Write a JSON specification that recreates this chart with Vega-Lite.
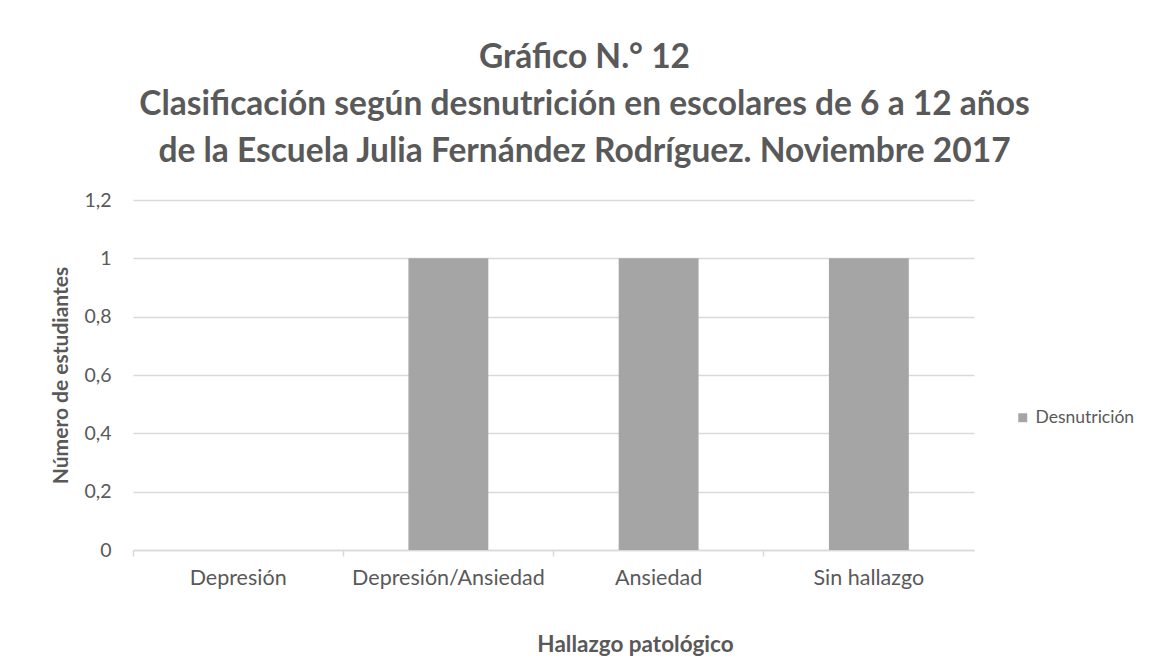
{
  "$schema": "https://vega.github.io/schema/vega-lite/v6.json",
  "width": 841,
  "height": 350,
  "autosize": {"type": "none"},
  "padding": {"left": 133, "top": 200, "right": 198, "bottom": 113},
  "background": "white",
  "title": {
    "text": ["Gráfico N.° 12", "Clasificación según desnutrición en escolares de 6 a 12 años", "de la Escuela Julia Fernández Rodríguez. Noviembre 2017"],
    "font": "Lato",
    "fontSize": 33.5,
    "fontWeight": "bold",
    "color": "#595959",
    "lineHeight": 47,
    "anchor": "middle",
    "dx": 31,
    "offset": 21
  },
  "data": {
    "values": [
      {"hallazgo": "Depresión", "valor": 0, "serie": "Desnutrición"},
      {"hallazgo": "Depresión/Ansiedad", "valor": 1, "serie": "Desnutrición"},
      {"hallazgo": "Ansiedad", "valor": 1, "serie": "Desnutrición"},
      {"hallazgo": "Sin hallazgo", "valor": 1, "serie": "Desnutrición"}
    ]
  },
  "mark": {"type": "bar", "width": {"band": 0.38}},
  "encoding": {
    "x": {
      "field": "hallazgo",
      "type": "nominal",
      "sort": null,
      "scale": {"paddingInner": 0, "paddingOuter": 0},
      "axis": {
        "title": "Hallazgo patológico",
        "titleFont": "Lato",
        "titleFontSize": 22.5,
        "titleFontWeight": "bold",
        "titleColor": "#595959",
        "titlePadding": 45,
        "titleX": 502,
        "labelFont": "Lato",
        "labelFontSize": 21.5,
        "labelColor": "#595959",
        "labelAngle": 0,
        "labelPadding": 11,
        "labelLimit": 400,
        "bandPosition": 0,
        "domainColor": "#d9d9d9",
        "domainWidth": 1.5,
        "tickColor": "#d9d9d9",
        "tickWidth": 1.5,
        "tickSize": 6,
        "grid": false
      }
    },
    "y": {
      "field": "valor",
      "type": "quantitative",
      "scale": {"domain": [0, 1.2]},
      "axis": {
        "title": "Número de estudiantes",
        "titleFont": "Lato",
        "titleFontSize": 21,
        "titleFontWeight": "bold",
        "titleColor": "#595959",
        "titlePadding": 12,
        "values": [0, 0.2, 0.4, 0.6, 0.8, 1, 1.2],
        "format": ",.1~f",
        "formatType": "number",
        "labelExpr": "replace(datum.label, '.', ',')",
        "labelFont": "Lato",
        "labelFontSize": 19.5,
        "labelColor": "#595959",
        "labelPadding": 22,
        "domain": false,
        "ticks": false,
        "gridColor": "#d9d9d9",
        "gridWidth": 1.5
      }
    },
    "color": {
      "field": "serie",
      "type": "nominal",
      "scale": {"range": ["#a5a5a5"]},
      "legend": {
        "title": null,
        "orient": "none",
        "legendX": 881,
        "legendY": 209,
        "symbolType": "square",
        "symbolSize": 80,
        "labelFont": "Lato",
        "labelFontSize": 17.5,
        "labelColor": "#595959",
        "labelOffset": 4
      }
    }
  },
  "config": {"view": {"stroke": null}}
}
